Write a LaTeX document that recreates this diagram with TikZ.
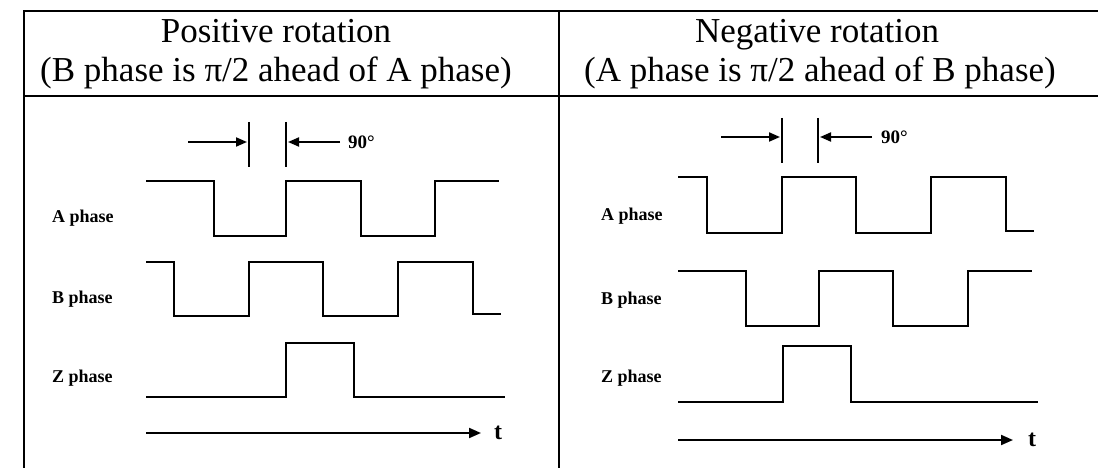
\documentclass[tikz,border=0pt]{standalone}
\usepackage{fontspec}
\setmainfont{Liberation Serif}
\usetikzlibrary{arrows.meta}
\begin{document}
\begin{tikzpicture}[x=1pt,y=-1pt,
  tbl/.style={line width=2.4pt},
  wave/.style={line width=2pt, line join=miter},
  tick/.style={line width=2pt},
  dimarrow/.style={line width=2pt,-{Triangle[length=11pt,width=9pt]}},
  taxis/.style={line width=2pt,-{Triangle[length=12pt,width=10pt]}},
  head/.style={font=\fontsize{35}{37}\selectfont, inner sep=0pt, anchor=base},
  lbl/.style={font=\fontsize{18}{20}\selectfont\bfseries, inner sep=0pt, anchor=west},
  tlbl/.style={font=\fontsize{24}{26}\selectfont\bfseries, inner sep=0pt},
  deg/.style={font=\fontsize{19}{20}\selectfont\bfseries, inner sep=0pt, anchor=west}]
\useasboundingbox (0,0) rectangle (1098,468);
% table
\draw[tbl] (24,468) -- (24,11) -- (1098,11);
\draw[tbl] (24,96) -- (1098,96);
\draw[tbl] (559,11) -- (559,468);
% headers
\node[head] (h1a) at (276,43) {Positive rotation};
\node[head] (h1b) at (276,82) {(B phase is π/2 ahead of A phase)};
\node[head] (h2a) at (817,43) {Negative rotation};
\node[head] (h2b) at (820,82) {(A phase is π/2 ahead of B phase)};
% ---------- left panel ----------
\node[lbl] (la) at (52,218) {A phase};
\node[lbl] (lb) at (52,299) {B phase};
\node[lbl] (lz) at (52,378) {Z phase};
\draw[wave] (146,181) -- (214,181) -- (214,236) -- (286,236) -- (286,181) -- (361,181) -- (361,236) -- (435,236) -- (435,181) -- (499,181);
\draw[wave] (146,262) -- (174,262) -- (174,316) -- (249,316) -- (249,262) -- (323,262) -- (323,316) -- (398,316) -- (398,262) -- (473,262) -- (473,314) -- (501,314);
\draw[wave] (146,397) -- (286,397) -- (286,343) -- (354,343) -- (354,397) -- (505,397);
\coordinate (lt1a) at (249,122); \coordinate (lt1b) at (249,167);
\coordinate (lt2a) at (286,122); \coordinate (lt2b) at (286,167);
\draw[tick] (lt1a) -- (lt1b);
\draw[tick] (lt2a) -- (lt2b);
\coordinate (la1) at (188,142); \coordinate (la2) at (247,142);
\coordinate (lb1) at (340,142); \coordinate (lb2) at (288,142);
\draw[dimarrow] (la1) -- (la2);
\draw[dimarrow] (lb1) -- (lb2);
\node[deg] (ldeg) at (348,142) {90°};
\coordinate (lts) at (146,433);
\node[tlbl] (lt) at (498,433) {t};
\draw[taxis] (lts) -- (481,433);
% ---------- right panel ----------
\node[lbl] (ra) at (601,216) {A phase};
\node[lbl] (rb) at (601,300) {B phase};
\node[lbl] (rz) at (601,378) {Z phase};
\draw[wave] (678,177) -- (707,177) -- (707,233) -- (782,233) -- (782,177) -- (856,177) -- (856,233) -- (931,233) -- (931,177) -- (1006,177) -- (1006,231) -- (1034,231);
\draw[wave] (678,271) -- (746,271) -- (746,326) -- (819,326) -- (819,271) -- (893,271) -- (893,326) -- (968,326) -- (968,271) -- (1032,271);
\draw[wave] (678,402) -- (783,402) -- (783,346) -- (851,346) -- (851,402) -- (1038,402);
\coordinate (rt1a) at (782,118); \coordinate (rt1b) at (782,163);
\coordinate (rt2a) at (818,118); \coordinate (rt2b) at (818,163);
\draw[tick] (rt1a) -- (rt1b);
\draw[tick] (rt2a) -- (rt2b);
\coordinate (ra1) at (721,137); \coordinate (ra2) at (780,137);
\coordinate (rb1) at (872,137); \coordinate (rb2) at (820,137);
\draw[dimarrow] (ra1) -- (ra2);
\draw[dimarrow] (rb1) -- (rb2);
\node[deg] (rdeg) at (881,137) {90°};
\coordinate (rts) at (678,440);
\node[tlbl] (rt) at (1032,440) {t};
\draw[taxis] (rts) -- (1013,440);
\end{tikzpicture}
\end{document}
